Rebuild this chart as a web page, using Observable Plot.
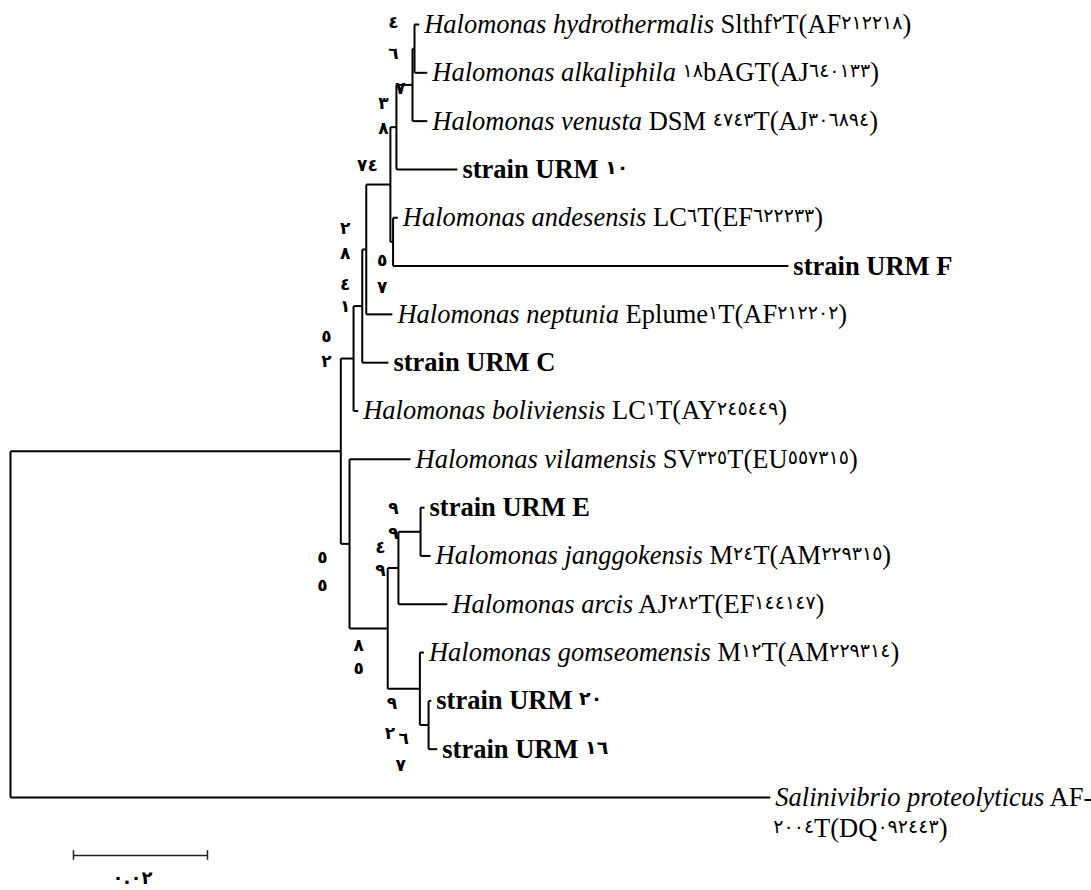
<!DOCTYPE html>
<html><head><meta charset="utf-8">
<script src="https://cdn.jsdelivr.net/npm/d3@7"></script>
<script src="https://cdn.jsdelivr.net/npm/@observablehq/plot@0.6"></script>
<style>body{margin:0;background:#fff} svg{display:block} text{white-space:pre}</style>
</head><body><div id="chart"></div>
<script>
// ---- leaves, top to bottom ----
const leafIds = ["hydro","alk","venusta","URM10","andesensis","URMF","neptunia","URMC","boliviensis","vilamensis","URME","janggokensis","arcis","gomseomensis","URM20","URM16","salini"];
const leafItalic = ["Halomonas hydrothermalis","Halomonas alkaliphila","Halomonas venusta","","Halomonas andesensis","","Halomonas neptunia","","Halomonas boliviensis","Halomonas vilamensis","","Halomonas janggokensis","Halomonas arcis","Halomonas gomseomensis","","","Salinivibrio proteolyticus"];
const leafRoman = [" Slthf٢T(AF٢١٢٢١٨)"," ١٨bAGT(AJ٦٤٠١٣٣)"," DSM ٤٧٤٣T(AJ٣٠٦٨٩٤)","strain URM ١٠"," LC٦T(EF٦٢٢٢٣٣)","strain URM F"," Eplume١T(AF٢١٢٢٠٢)","strain URM C"," LC١T(AY٢٤٥٤٤٩)"," SV٣٢٥T(EU٥٥٧٣١٥)","strain URM E"," M٢٤T(AM٢٢٩٣١٥)"," AJ٢٨٢T(EF١٤٤١٤٧)"," M١٢T(AM٢٢٩٣١٤)","strain URM ٢٠","strain URM ١٦"," AF-"];
const leafSecondLine = ["","","","","","","","","","","","","","","","","٢٠٠٤T(DQ٠٩٢٤٤٣)"];

// ---- tree edges (parent -> child, branch length in substitutions/site) ----
const edgeParent = ["R","R","A","A","B","B","C1","C1","C2","C2","D","D","H3","H3","H2","H2","H1","H1","D2","D2","E","E","F","F","F1","F1","F2","F2","G","G","G1","G1"];
const edgeChild  = ["A","salini","B","E","C1","boliviensis","C2","URMC","D","neptunia","H3","D2","H2","URM10","H1","venusta","hydro","alk","andesensis","URMF","vilamensis","F","F1","G","F2","arcis","URME","janggokensis","gomseomensis","G1","URM20","URM16"];
const edgeLength = [0.0493,0.1134,0.0019,0.0013,0.0013,0.0007,0.0006,0.0039,0.0036,0.0039,0.0009,0.0004,0.0024,0.0091,0.0003,0.0022,0.0007,0.0019,0.0007,0.059,0.0091,0.0057,0.0016,0.0048,0.0033,0.0073,0.0006,0.0015,0.0006,0.0013,0.0004,0.0013];

// ---- bootstrap values (digits as printed, attached to nodes) ----
const bootNode = ["H1","H1","H2","H3","H3","D","D2","D2","C2","C2","C1","C1","B","B","E","E","F2","F2","F1","F1","F","F","G","G","G1","G1"];
const bootText = ["٤","٦","٧","٣","٨","٧٤","٥","٧","٢","٨","٤","١","٥","٢","٥","٥","٩","٩","٤","٩","٨","٥","٩","٢","٦","٧"];
const bootDx = [-21,-21,-12,-13,-13,-23,-11,-11,-21,-21,-17,-17,-27,-27,-27,-27,-27,-27,-18,-18,-29,-29,-28,-30,-25,-28];
const bootDy = [-26,5,4,-24,1,-19,19,46,-21,4,-22,0,-22,3,14,42,-23,2,-20,3,17,40,15,45,14,41];

// ---- scale bar ----
const scaleBarLength = 0.02;
const scaleBarLabel = "٠.٠٢";

// ---- build tree layout ----
const children = new Map();
const blen = new Map();
edgeParent.forEach((p, i) => {
  if (!children.has(p)) children.set(p, []);
  children.get(p).push(edgeChild[i]);
  blen.set(edgeChild[i], edgeLength[i]);
});
const depth = new Map([["R", 0]]);
const row = new Map();
leafIds.forEach((id, i) => row.set(id, i));
(function setDepth(n) { for (const c of children.get(n) || []) { depth.set(c, depth.get(n) + blen.get(c)); setDepth(c); } })("R");
(function setRow(n) {
  const ch = children.get(n);
  if (!ch) return row.get(n);
  const ys = ch.map(setRow);
  const y = (d3.min(ys) + d3.max(ys)) / 2;
  row.set(n, y);
  return y;
})("R");

const horiz = edgeChild.map((c, i) => ({x1: depth.get(edgeParent[i]), x2: depth.get(c), y1: row.get(c), y2: row.get(c)}));
const vert = [...children.keys()].map(n => {
  const ys = children.get(n).map(c => row.get(c));
  return {x1: depth.get(n), x2: depth.get(n), y1: d3.min(ys), y2: d3.max(ys)};
});
const leaves = leafIds.map((id, i) => ({id, x: depth.get(id), y: row.get(id), italic: leafItalic[i], roman: leafRoman[i], second: leafSecondLine[i], bold: leafItalic[i] === ""}));

const barStart = 0.0094, barRow = 17.2, barLabelRow = 17.68;

const marks = [
  Plot.link(horiz, {x1: "x1", x2: "x2", y1: "y1", y2: "y2", stroke: "#000", strokeWidth: 2}),
  Plot.link(vert, {x1: "x1", x2: "x2", y1: "y1", y2: "y2", stroke: "#000", strokeWidth: 2}),
  Plot.text(leaves, {x: "x", y: "y", text: d => d.italic + d.roman, textAnchor: "start", dx: 5, fontSize: 26.5, ariaDescription: "leaf-labels"}),
  Plot.text(leaves.filter(d => d.second), {x: "x", y: "y", text: "second", textAnchor: "start", dx: 3, dy: 31, fontSize: 26.5, ariaDescription: "leaf-labels-2"}),
  ...bootNode.map((n, i) => Plot.text([{x: depth.get(n), y: row.get(n), t: bootText[i]}], {x: "x", y: "y", text: "t", dx: bootDx[i], dy: bootDy[i], fontSize: 17, fontWeight: "bold", fontFamily: "DejaVu Sans"})),
  Plot.link([{a: barStart, b: barStart + scaleBarLength, y: barRow}], {x1: "a", x2: "b", y1: "y", y2: "y", stroke: "#222", strokeWidth: 1.5}),
  Plot.ruleX([barStart, barStart + scaleBarLength], {x: d => d, y1: barRow - 0.1, y2: barRow + 0.1, stroke: "#222", strokeWidth: 1.5}),
  Plot.text([scaleBarLabel], {x: barStart + scaleBarLength / 2, y: barLabelRow, text: d => d, dx: -8, fontSize: 18, fontWeight: "bold", fontFamily: "DejaVu Sans"})
];

const svg = Plot.plot({
  width: 1091, height: 890, margin: 0,
  x: {domain: [0, 0.12], range: [10, 814], axis: null},
  y: {domain: [0, 16], range: [24, 797], axis: null},
  style: {fontFamily: "'Liberation Serif', 'Times New Roman', serif", background: "#fff", color: "#000"},
  marks
});
document.getElementById("chart").appendChild(svg);

// ---- rich text styling: italic species names, bold strains, small raised Arabic-Indic digits ----
const NS = "http://www.w3.org/2000/svg";
function fill(textEl, parts) {
  textEl.textContent = "";
  let shift = 0;
  for (const [str, style] of parts) {
    for (const piece of str.split(/([\u0660-\u0669]+)/)) {
      if (!piece) continue;
      const t = document.createElementNS(NS, "tspan");
      const isDigit = /^[\u0660-\u0669]+$/.test(piece);
      const want = isDigit ? -4 : 0;
      if (want !== shift) { t.setAttribute("dy", want - shift); shift = want; }
      if (isDigit) { t.setAttribute("font-size", "19"); t.setAttribute("font-family", "DejaVu Sans"); t.setAttribute("letter-spacing", "1.5"); }
      if (style === "italic") t.setAttribute("font-style", "italic");
      if (style === "bold") t.setAttribute("font-weight", "bold");
      t.textContent = piece;
      textEl.appendChild(t);
    }
  }
}
const g1 = svg.querySelector('g[aria-description="leaf-labels"]');
if (g1) g1.querySelectorAll("text").forEach((el, i) => {
  const d = leaves[i];
  fill(el, d.bold ? [[d.roman, "bold"]] : [[d.italic, "italic"], [d.roman, "normal"]]);
});
const g2 = svg.querySelector('g[aria-description="leaf-labels-2"]');
if (g2) g2.querySelectorAll("text").forEach((el, i) => {
  fill(el, [[leaves.filter(d => d.second)[i].second, "normal"]]);
});
</script>
</body></html>
